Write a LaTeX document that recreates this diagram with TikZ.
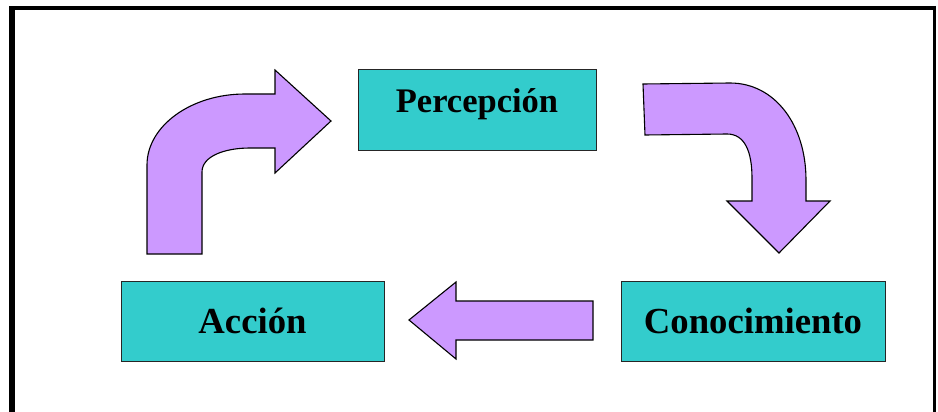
\documentclass[tikz,border=0pt]{standalone}
\usepackage{fontspec}
\setmainfont{Liberation Serif}
\begin{document}
\begin{tikzpicture}[x=1pt,y=-1pt,
  box/.style={draw=black!85,line width=1pt,fill=boxteal,inner sep=0pt,
    font=\bfseries\fontsize{36.7}{37}\selectfont,text height=25pt,text depth=0pt},
  blockarrow/.style={draw=black,line width=1.1pt,fill=arrowpurple,line join=miter}]
\definecolor{boxteal}{HTML}{33CCCC}
\definecolor{arrowpurple}{HTML}{CC99FF}
\useasboundingbox (0,0) rectangle (938,412);
% frame
\draw[line width=5.5pt] (12,420) -- (12,6);
\draw[line width=4pt] (9,8) -- (936,8);
\draw[line width=3.5pt] (934.5,6) -- (934.5,420);
% boxes
\node[box,minimum width=238pt,minimum height=80pt,
  font=\bfseries\fontsize{34.5}{35}\selectfont,text height=20pt,text depth=14pt] (per) at (477,110) {Percepción};
\node[box,minimum width=263pt,minimum height=80pt] (acc) at (252.5,321) {Acción};
\node[box,minimum width=264pt,minimum height=80pt] (con) at (753,321) {Conocimiento};
% top-left bent arrow
\draw[blockarrow] (147,254) -- (147,165) .. controls (147,126) and (191,94) .. (245,94)
  -- (275,94) -- (275,70) -- (331,121) -- (275,173) -- (275,148) -- (250,148)
  .. controls (225,148) and (202,156) .. (202,172) -- (202,254) -- cycle;
% top-right bent arrow
\draw[blockarrow] (643,84) -- (730,83) .. controls (775,83) and (806,125) .. (806,180)
  -- (806,201) -- (830,201) -- (779,253) -- (727,201) -- (752,201) -- (752,178)
  .. controls (752,152) and (745,134) .. (727,134) -- (645,135) -- cycle;
% bottom arrow
\draw[blockarrow] (593,301) -- (456,301) -- (456,282) -- (409,320) -- (456,359)
  -- (456,340) -- (593,340) -- cycle;
\end{tikzpicture}
\end{document}
